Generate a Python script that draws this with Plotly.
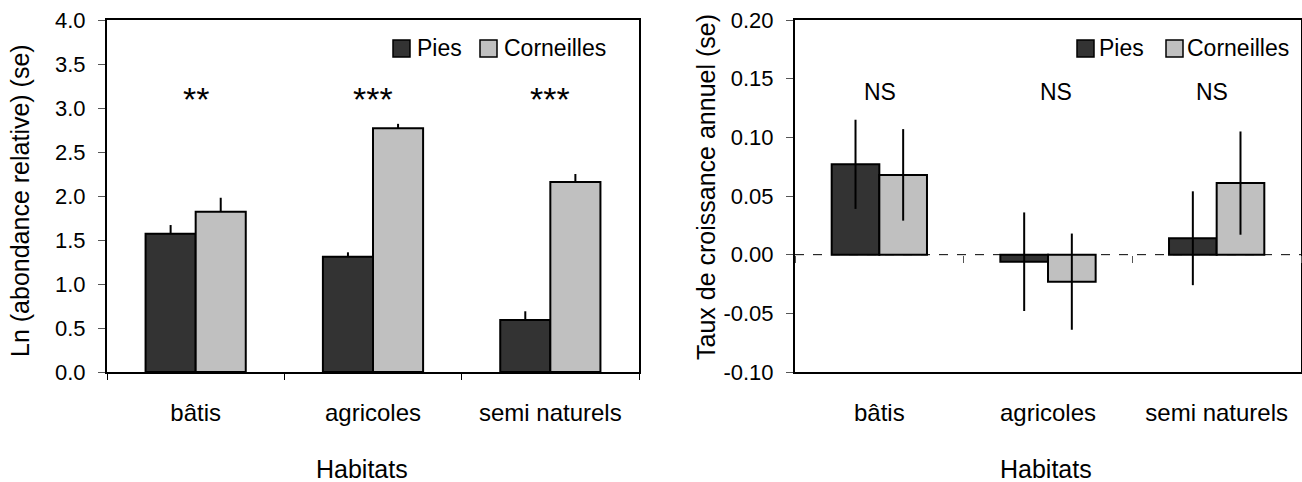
import plotly.graph_objects as go

# ---------------- data ----------------
habitats = ["bâtis", "agricoles", "semi naturels"]

abond_pies = [1.57, 1.31, 0.59]
abond_pies_se = [0.10, 0.05, 0.10]
abond_corn = [1.82, 2.77, 2.16]
abond_corn_se = [0.16, 0.05, 0.09]
abond_signif = ["**", "***", "***"]

croiss_pies = [0.077, -0.006, 0.014]
croiss_pies_se = [0.038, 0.042, 0.040]
croiss_corn = [0.068, -0.023, 0.061]
croiss_corn_se = [0.039, 0.041, 0.044]
croiss_signif = ["NS", "NS", "NS"]

left_yticks = [0, 0.5, 1, 1.5, 2, 2.5, 3, 3.5, 4]
right_yticks = [-0.10, -0.05, 0.0, 0.05, 0.10, 0.15, 0.20]

# ---------------- styles ----------------
W, H = 1302, 482
FONT = "Arial, Liberation Sans, sans-serif"
DARK = "#333333"
LIGHT = "#c0c0c0"


def px(x):
    return x / W


def py(y):
    return 1 - y / H


ydom = [py(372), py(20)]
fig = go.Figure()

zeros = [0 for _ in habitats]
fig.add_trace(go.Bar(x=habitats, y=abond_pies, name="Pies", xaxis="x", yaxis="y",
                     marker=dict(color=DARK, line=dict(color="black", width=2)),
                     error_y=dict(type="data", symmetric=False, array=abond_pies_se,
                                  arrayminus=zeros, color="black", thickness=2, width=0),
                     showlegend=False))
fig.add_trace(go.Bar(x=habitats, y=abond_corn, name="Corneilles", xaxis="x", yaxis="y",
                     marker=dict(color=LIGHT, line=dict(color="black", width=2)),
                     error_y=dict(type="data", symmetric=False, array=abond_corn_se,
                                  arrayminus=zeros, color="black", thickness=2, width=0),
                     showlegend=False))
fig.add_trace(go.Bar(x=habitats, y=croiss_pies, name="Pies", xaxis="x2", yaxis="y2",
                     marker=dict(color=DARK, line=dict(color="black", width=2)),
                     error_y=dict(type="data", array=croiss_pies_se, color="black",
                                  thickness=2, width=0),
                     showlegend=False))
fig.add_trace(go.Bar(x=habitats, y=croiss_corn, name="Corneilles", xaxis="x2", yaxis="y2",
                     marker=dict(color=LIGHT, line=dict(color="black", width=2)),
                     error_y=dict(type="data", array=croiss_corn_se, color="black",
                                  thickness=2, width=0),
                     showlegend=False))
# invisible helper trace so the zero-crossing tick axis is drawn
fig.add_trace(go.Scatter(x=habitats, y=zeros, xaxis="x3", yaxis="y2", mode="none",
                         hoverinfo="skip", showlegend=False))

axis_common = dict(showline=True, linecolor="black", linewidth=2, mirror=True,
                   showgrid=False, zeroline=False, automargin=False)

# y position (paper) of zero on the right chart
ymin, ymax = right_yticks[0], right_yticks[-1]
zero_paper = ydom[0] + (0 - ymin) / (ymax - ymin) * (ydom[1] - ydom[0])

fig.update_layout(
    template="none",
    width=W, height=H,
    margin=dict(l=0, r=0, t=0, b=0, autoexpand=False),
    paper_bgcolor="white", plot_bgcolor="white",
    font=dict(family=FONT, color="black"),
    barmode="group", bargap=0.435, bargroupgap=0,
    xaxis=dict(domain=[px(107), px(639)], anchor="y", type="category",
               categoryorder="array", categoryarray=habitats, range=[-0.5, 2.5],
               ticks="outside", tickson="boundaries", ticklen=6, tickcolor="black",
               tickwidth=1, tickfont=dict(size=24), ticklabelstandoff=18,
               **axis_common),
    yaxis=dict(domain=ydom, anchor="x", range=[0, 4], tickvals=left_yticks,
               ticktext=[f"{v:.1f}" for v in left_yticks],
               ticks="outside", ticklen=7, tickcolor="#555555",
               tickwidth=1, tickfont=dict(size=22), ticklabelstandoff=8,
               **axis_common),
    xaxis2=dict(domain=[px(795), px(1301)], anchor="y2", type="category",
                categoryorder="array", categoryarray=habitats, range=[-0.5, 2.5],
                ticks="", tickfont=dict(size=24), ticklabelstandoff=18,
                **axis_common),
    xaxis3=dict(overlaying="x2", anchor="free", position=zero_paper, type="category",
                categoryorder="array", categoryarray=habitats, range=[-0.5, 2.5],
                showline=False, showgrid=False, zeroline=False, ticks="outside",
                tickson="boundaries", ticklen=7, tickcolor="#555555", tickwidth=1,
                showticklabels=False, automargin=False),
    yaxis2=dict(domain=ydom, anchor="x2", range=[ymin, ymax], tickvals=right_yticks,
                ticktext=[f"{v:.2f}" for v in right_yticks],
                ticks="outside", ticklen=7, tickcolor="#555555",
                tickwidth=1, tickfont=dict(size=22), ticklabelstandoff=8,
                **axis_common),
)

# dashed zero reference line on the right chart
fig.add_shape(type="line", xref="x2 domain", x0=0, x1=1, yref="y2", y0=0, y1=0,
              line=dict(color="black", width=1, dash="dash"), layer="below")

annotations = []
# axis titles
annotations.append(dict(text="Ln (abondance relative) (se)", xref="paper", yref="paper",
                        x=px(20), y=py(201), textangle=-90, showarrow=False,
                        font=dict(size=25), xanchor="center", yanchor="middle"))
annotations.append(dict(text="Taux de croissance annuel (se)", xref="paper", yref="paper",
                        x=px(706), y=py(187), textangle=-90, showarrow=False,
                        font=dict(size=25), xanchor="center", yanchor="middle"))
annotations.append(dict(text="Habitats", xref="paper", yref="paper", x=px(362), y=py(469),
                        showarrow=False, font=dict(size=25), xanchor="center",
                        yanchor="middle"))
annotations.append(dict(text="Habitats", xref="paper", yref="paper", x=px(1046), y=py(469),
                        showarrow=False, font=dict(size=25), xanchor="center",
                        yanchor="middle"))
# significance labels
for cat, s in zip(habitats, abond_signif):
    annotations.append(dict(text=s, xref="x", yref="paper", x=cat, y=py(78),
                            showarrow=False, font=dict(size=34), xanchor="center",
                            yanchor="top"))
ns_shift = [1, 8, -5]
for cat, s, sh in zip(habitats, croiss_signif, ns_shift):
    annotations.append(dict(text=s, xref="x2", yref="paper", x=cat, y=py(92), xshift=sh,
                            showarrow=False, font=dict(size=23), xanchor="center",
                            yanchor="middle"))

# manual legends (square swatch + label)
legend_items = [
    (393, 415, DARK, "Pies"), (480, 502, LIGHT, "Corneilles"),
    (1077, 1097, DARK, "Pies"), (1166, 1185, LIGHT, "Corneilles"),
]
for sx, tx, col, label in legend_items:
    fig.add_shape(type="rect", xref="paper", yref="paper",
                  x0=px(sx), x1=px(sx + 17), y0=py(57), y1=py(40),
                  fillcolor=col, line=dict(color="black", width=1.5))
    annotations.append(dict(text=label, xref="paper", yref="paper", x=px(tx), y=py(48),
                            showarrow=False, font=dict(size=23), xanchor="left",
                            yanchor="middle"))

fig.update_layout(annotations=annotations)
fig.write_html(
    "out.html",
    config={"displayModeBar": False},
    post_script="document.body.style.margin='0';document.body.style.overflow='hidden';",
)
